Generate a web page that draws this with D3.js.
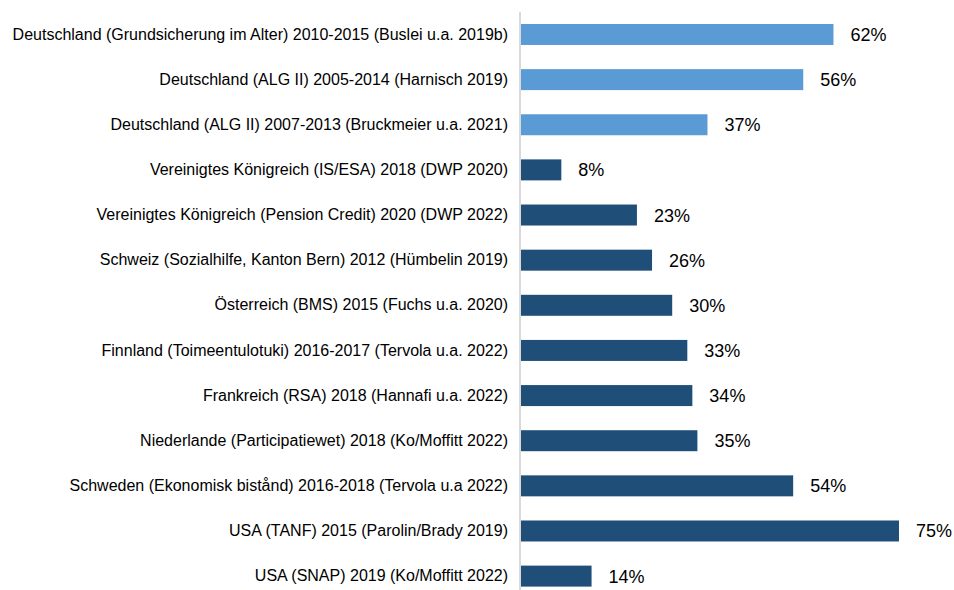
<!DOCTYPE html>
<html>
<head>
<meta charset="utf-8">
<script src="https://cdn.jsdelivr.net/npm/d3@7"></script>
<style>
  body { margin: 0; background: #fff; }
  svg text { font-family: "Liberation Sans", Arial, sans-serif; fill: #000; }
</style>
</head>
<body>
<div id="chart"></div>
<script>
  "use strict";

  // categories, top to bottom
  var categories = [
    "Deutschland (Grundsicherung im Alter) 2010-2015 (Buslei u.a. 2019b)",
    "Deutschland (ALG II) 2005-2014 (Harnisch 2019)",
    "Deutschland (ALG II) 2007-2013 (Bruckmeier u.a. 2021)",
    "Vereinigtes Königreich (IS/ESA) 2018 (DWP 2020)",
    "Vereinigtes Königreich (Pension Credit) 2020 (DWP 2022)",
    "Schweiz (Sozialhilfe, Kanton Bern) 2012 (Hümbelin 2019)",
    "Österreich (BMS) 2015 (Fuchs u.a. 2020)",
    "Finnland (Toimeentulotuki) 2016-2017 (Tervola u.a. 2022)",
    "Frankreich (RSA) 2018 (Hannafi u.a. 2022)",
    "Niederlande (Participatiewet) 2018 (Ko/Moffitt 2022)",
    "Schweden (Ekonomisk bistånd) 2016-2018 (Tervola u.a 2022)",
    "USA (TANF) 2015 (Parolin/Brady 2019)",
    "USA (SNAP) 2019 (Ko/Moffitt 2022)"
  ];

  // non-take-up rates in percent
  var values = [62, 56, 37, 8, 23, 26, 30, 33, 34, 35, 54, 75, 14];

  // which group each bar belongs to (germany highlighted)
  var groups = ["de", "de", "de", "int", "int", "int", "int", "int", "int", "int", "int", "int", "int"];

  var colors = { de: "#5b9bd5", int: "#1f4e79" };

  var width = 954, height = 590;
  var margin = { top: 12, left: 521 };

  var svg = d3.select("#chart").append("svg")
      .attr("width", width)
      .attr("height", height);

  var x = d3.scaleLinear()
      .domain([0, 75])
      .range([margin.left, margin.left + 378]);

  var y = d3.scaleBand()
      .domain(categories)
      .range([11.8, 598.8])
      .paddingInner(0.535)
      .paddingOuter(0.27);

  var rows = svg.append("g").selectAll("g")
      .data(categories)
      .enter().append("g");

  rows.append("rect")
      .attr("x", x(0))
      .attr("y", function (d) { return y(d); })
      .attr("width", function (d, i) { return x(values[i]) - x(0); })
      .attr("height", y.bandwidth())
      .attr("fill", function (d, i) { return colors[groups[i]]; });

  rows.append("text")
      .attr("x", function (d, i) { return x(values[i]) + 17; })
      .attr("y", function (d) { return y(d) + y.bandwidth() / 2; })
      .attr("dy", "0.36em")
      .style("font-size", "18px")
      .text(function (d, i) { return values[i] + "%"; });

  // category axis on the left, line only
  var axis = svg.append("g")
      .attr("transform", "translate(" + (margin.left - 1) + ",0)")
      .call(d3.axisLeft(y).tickSize(0).tickPadding(12));

  axis.select(".domain")
      .attr("d", "M0," + margin.top + "V" + height)
      .attr("stroke", "#d9d9d9")
      .attr("stroke-width", 2);

  axis.selectAll("text")
      .style("font-size", "16px")
      .attr("fill", "#000");
</script>
</body>
</html>
